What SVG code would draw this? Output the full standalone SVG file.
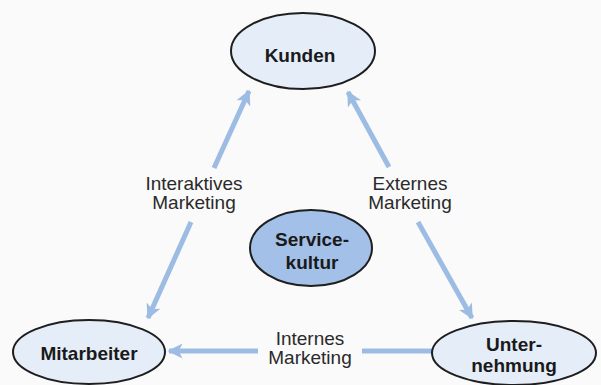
<svg xmlns="http://www.w3.org/2000/svg" width="601" height="385" viewBox="0 0 601 385">
  <defs>
    <style>
      .node ellipse { fill: #e4edf8; stroke: #1e1e1e; stroke-width: 2; }
      .node.core ellipse { fill: #a3c1e8; }
      .node text { font-family: "Liberation Sans", Arial, sans-serif; font-weight: bold; font-size: 19px; fill: #1a1a1a; text-anchor: middle; }
      .label { font-family: "Liberation Sans", Arial, sans-serif; font-size: 19px; fill: #2a2a2a; text-anchor: middle; }
      .conn line { stroke: #9dbce3; stroke-width: 5; fill: none; }
      .conn line.head { marker-end: url(#arrow); }
    </style>
    <marker id="arrow" viewBox="0 0 10 10" refX="9" refY="5" markerUnits="userSpaceOnUse" markerWidth="16" markerHeight="15" orient="auto">
      <path d="M0,0 L10,5 L0,10 L2.5,5 Z" fill="#9dbce3"/>
    </marker>
  </defs>

  <rect width="601" height="385" fill="#fafafa"/>

  <!-- connectors -->
  <g id="connectors" class="conn">
    <!-- Interaktives Marketing: Kunden <-> Mitarbeiter -->
    <line class="head" x1="214" y1="168" x2="249" y2="91"/>
    <line class="head" x1="191" y1="222" x2="148" y2="318"/>
    <!-- Externes Marketing: Kunden <-> Unternehmung -->
    <line class="head" x1="389" y1="167" x2="348" y2="92"/>
    <line class="head" x1="418" y1="222" x2="472" y2="318"/>
    <!-- Internes Marketing: Mitarbeiter <-> Unternehmung -->
    <line class="head" x1="258" y1="351" x2="169" y2="351"/>
    <line class="head" x1="362" y1="351" x2="456" y2="351"/>
  </g>

  <!-- connector labels -->
  <g id="labels">
    <text class="label" x="194" y="190">Interaktives</text>
    <text class="label" x="194" y="209">Marketing</text>
    <text class="label" x="410" y="190">Externes</text>
    <text class="label" x="410" y="209">Marketing</text>
    <text class="label" x="310" y="345">Internes</text>
    <text class="label" x="310" y="364">Marketing</text>
  </g>

  <!-- nodes -->
  <g id="kunden" class="node">
    <ellipse cx="303" cy="51" rx="72" ry="38"/>
    <text x="300" y="62">Kunden</text>
  </g>

  <g id="servicekultur" class="node core">
    <ellipse cx="311" cy="248" rx="61" ry="38"/>
    <text x="312" y="246">Service-</text>
    <text x="312" y="269">kultur</text>
  </g>

  <g id="mitarbeiter" class="node">
    <ellipse cx="89" cy="352" rx="76" ry="32"/>
    <text x="89" y="360">Mitarbeiter</text>
  </g>

  <g id="unternehmung" class="node">
    <ellipse cx="514" cy="353" rx="82" ry="32"/>
    <text x="514" y="351">Unter-</text>
    <text x="514" y="372">nehmung</text>
  </g>
</svg>
